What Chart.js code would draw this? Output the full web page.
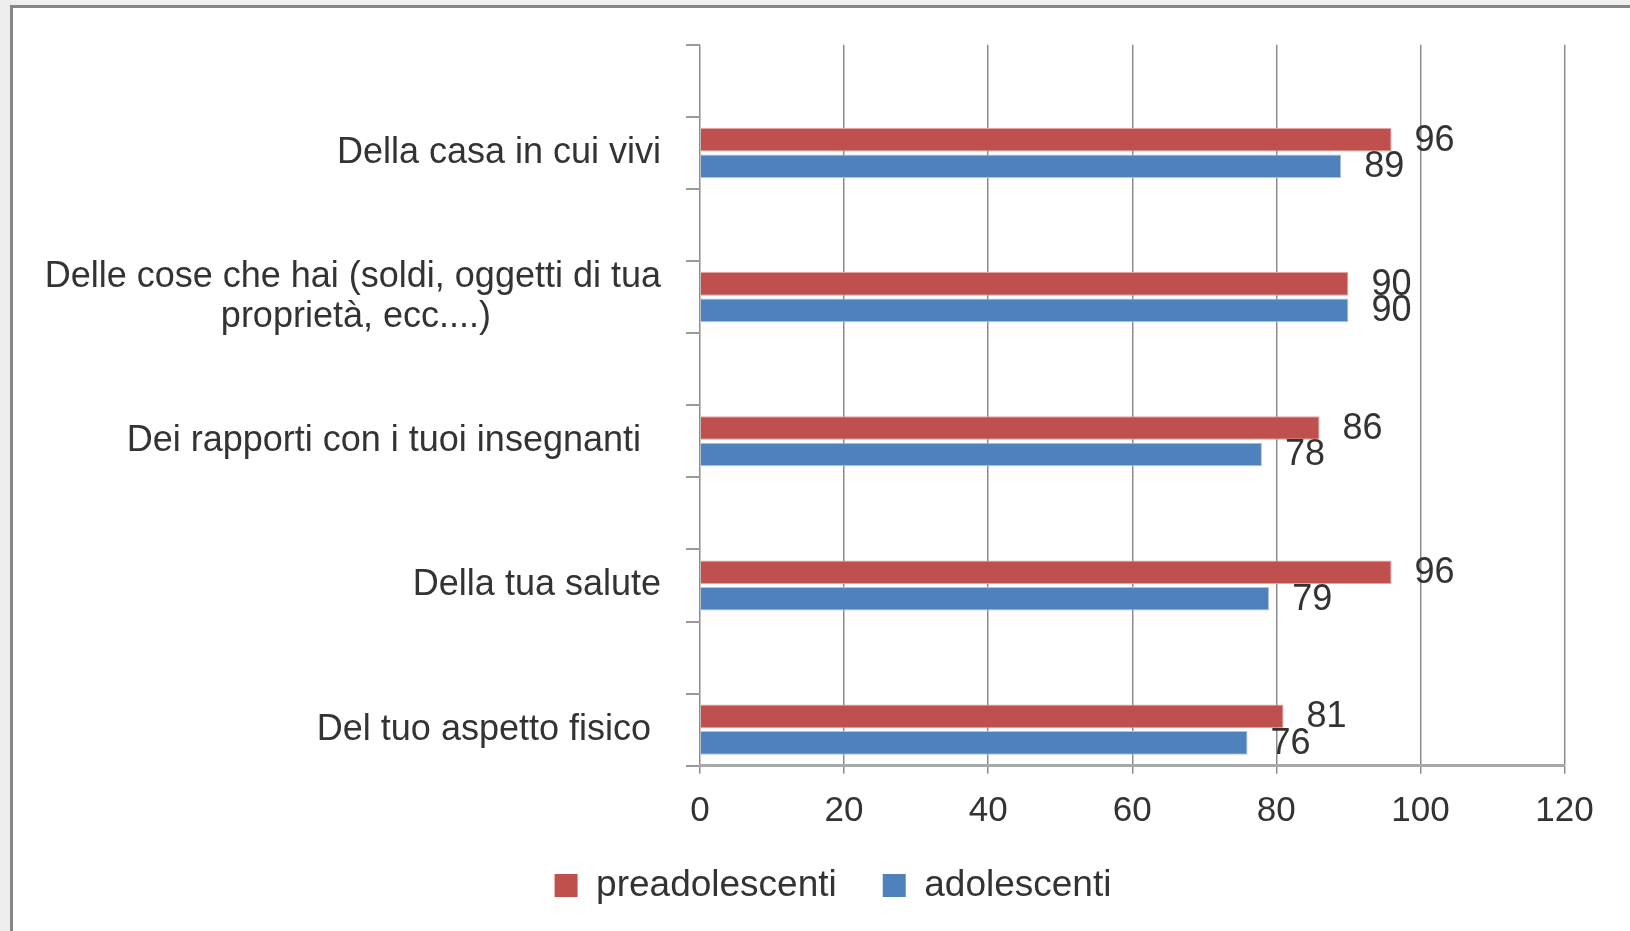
<!DOCTYPE html>
<html>
<head>
<meta charset="utf-8">
<script src="https://cdn.jsdelivr.net/npm/chart.js@4/dist/chart.umd.min.js"></script>
<style>
  html, body { margin: 0; padding: 0; background: #eeeeee; overflow: hidden; }
  #frame { position: absolute; left: 10px; top: 5px; width: 1700px; height: 1000px;
           border: 3px solid #858585; background: #ffffff; }
  #wrap { position: absolute; left: 0; top: 0; width: 1630px; height: 931px; }
</style>
</head>
<body>
<div id="frame"></div>
<div id="wrap"><canvas id="c" width="1630" height="931"></canvas></div>
<script>
// Categories (top to bottom) and series values
const categories = [
  'Della casa in cui vivi',
  ['Delle cose che hai (soldi, oggetti di tua', 'proprietà, ecc....)                 '],
  'Dei rapporti con i tuoi insegnanti  ',
  'Della tua salute',
  'Del tuo aspetto fisico '
];
const preadolescenti = [96, 90, 86, 96, 81];
const adolescenti    = [89, 90, 78, 79, 76];
const xTicks = [0, 20, 40, 60, 80, 100, 120];
const seriesNames = ['preadolescenti', 'adolescenti'];

// The source sheet has a blank row before each category: interleave empty slots
const slotLabels = [], slotPre = [], slotAdo = [];
categories.forEach((c, i) => {
  slotLabels.push(''); slotPre.push(null); slotAdo.push(null);
  slotLabels.push(c); slotPre.push(preadolescenti[i]); slotAdo.push(adolescenti[i]);
});

const FONT = '"Liberation Sans", Arial, sans-serif';
const TXT = '#333333';

const valueLabels = {
  id: 'valueLabels',
  afterDatasetsDraw(chart) {
    const ctx = chart.ctx;
    ctx.save();
    ctx.font = '36px ' + FONT;
    ctx.fillStyle = TXT;
    ctx.textAlign = 'left';
    ctx.textBaseline = 'middle';
    chart.data.datasets.forEach((ds, di) => {
      const meta = chart.getDatasetMeta(di);
      meta.data.forEach((el, i) => {
        const v = ds.data[i];
        if (v === null || v === undefined) return;
        ctx.fillText(String(v), el.x + 23, el.y + 1);
      });
    });
    ctx.restore();
  }
};

new Chart(document.getElementById('c'), {
  type: 'bar',
  data: {
    labels: slotLabels,
    datasets: [
      { label: seriesNames[0], data: slotPre, backgroundColor: '#C0504D',
        borderColor: '#E3A3A1', borderWidth: 1,
        categoryPercentage: 0.735, barPercentage: 0.89 },
      { label: seriesNames[1], data: slotAdo, backgroundColor: '#4F81BD',
        borderColor: '#A9C3E6', borderWidth: 1,
        categoryPercentage: 0.735, barPercentage: 0.89 }
    ]
  },
  options: {
    indexAxis: 'y',
    responsive: false,
    animation: false,
    events: [],
    layout: { padding: { top: 44, right: 0, left: 36, bottom: 17 } },
    scales: {
      x: {
        min: 0, max: 120,
        afterBuildTicks(scale) { scale.ticks = xTicks.map(v => ({ value: v })); },
        grid: { color: '#8c8c8c', lineWidth: 1.5, tickLength: 8, drawTicks: true },
        border: { color: '#a8a8a8', width: 3 },
        ticks: { font: { family: FONT, size: 35 }, color: TXT, padding: 16.5 },
        afterFit(scale) { scale.height = 55.3; }
      },
      y: {
        grid: { drawOnChartArea: false, color: '#9a9a9a', lineWidth: 2, tickLength: 14, offset: true },
        border: { display: false },
        ticks: { font: { family: FONT, size: 36, lineHeight: 1.1 }, color: TXT, padding: 25, autoSkip: false },
        afterFit(scale) { scale.width = 664; }
      },
      rightSpace: {
        type: 'linear', position: 'right', axis: 'y',
        display: true,
        grid: { display: false, drawTicks: false },
        border: { display: false },
        ticks: { display: false },
        afterFit(scale) { scale.width = 65.5; }
      }
    },
    plugins: {
      legend: {
        position: 'bottom',
        labels: { font: { family: FONT, size: 37 }, color: TXT, boxWidth: 23, boxHeight: 23, padding: 46,
                  generateLabels(chart) {
                    return chart.data.datasets.map((d, i) => ({ text: d.label, fillStyle: d.backgroundColor,
                      strokeStyle: d.backgroundColor, lineWidth: 0, datasetIndex: i, fontColor: TXT }));
                  } }
      },
      tooltip: { enabled: false }
    }
  },
  plugins: [valueLabels]
});
</script>
</body>
</html>
